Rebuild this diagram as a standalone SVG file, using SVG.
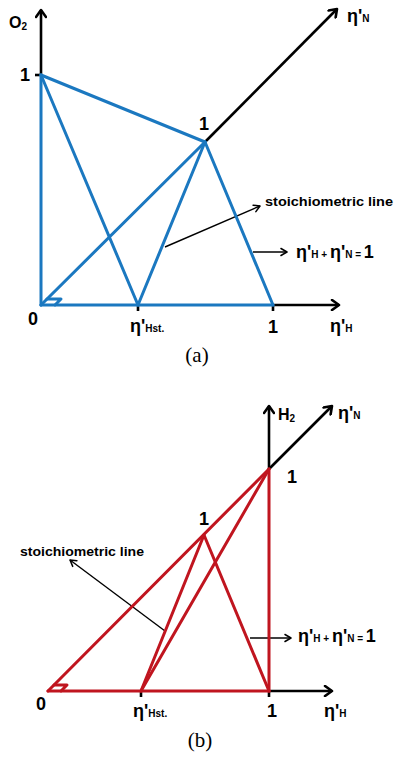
<svg xmlns="http://www.w3.org/2000/svg" width="395" height="759" viewBox="0 0 395 759">
<style>
.bl{stroke:#1b78c0;stroke-width:3;fill:none;stroke-linecap:round;stroke-linejoin:round}
.rd{stroke:#c0151f;stroke-width:3;fill:none;stroke-linecap:round;stroke-linejoin:round}
.ax{stroke:#000;stroke-width:2.6;fill:none}
.pt{stroke:#000;stroke-width:1.4;fill:none}
.t{font-family:"Liberation Sans",Arial,sans-serif;font-weight:bold;fill:#000}
.s{font-size:10px}
.b{font-size:18px}
.cap{font-family:"Liberation Serif","Times New Roman",serif;font-size:21px;fill:#000}
</style>
<defs>
<marker id="ah" markerWidth="12" markerHeight="12" refX="9" refY="6" orient="auto" markerUnits="userSpaceOnUse">
<path d="M2,1 L9,6 L2,11" fill="none" stroke="#000" stroke-width="2.6" stroke-linecap="round" stroke-linejoin="round"/>
</marker>
<marker id="ahs" markerWidth="10" markerHeight="10" refX="8" refY="5" orient="auto" markerUnits="userSpaceOnUse">
<path d="M2,1.5 L8,5 L2,8.5" fill="none" stroke="#000" stroke-width="1.5" stroke-linecap="round" stroke-linejoin="round"/>
</marker>
</defs>

<!-- Panel (a) -->
<g id="connectors-a">
<line class="ax" x1="41" y1="75" x2="41" y2="10" marker-end="url(#ah)"/>
<line class="ax" x1="35" y1="75" x2="41" y2="75"/>
<line class="ax" x1="205" y1="142" x2="337" y2="9" marker-end="url(#ah)"/>
<line class="ax" x1="273" y1="305" x2="339" y2="305" marker-end="url(#ah)"/>
<line class="ax" x1="138" y1="305" x2="138" y2="311" stroke-width="1.6"/>
<line class="ax" x1="273" y1="305" x2="273" y2="311" stroke-width="1.6"/>
<line class="pt" x1="165" y1="247" x2="260" y2="206" marker-end="url(#ahs)"/>
<line class="pt" x1="253" y1="252" x2="287" y2="252" marker-end="url(#ahs)"/>
</g>
<g id="triangle-a">
<line class="bl" x1="41" y1="75" x2="41" y2="305"/>
<line class="bl" x1="41" y1="305" x2="273" y2="305"/>
<line class="bl" x1="41" y1="75" x2="205" y2="142"/>
<line class="bl" x1="41" y1="75" x2="138" y2="305"/>
<line class="bl" x1="205" y1="142" x2="138" y2="305"/>
<line class="bl" x1="205" y1="142" x2="273" y2="305"/>
<line class="bl" x1="41" y1="305" x2="205" y2="142"/>
<polyline class="bl" stroke-width="2" points="47,299 61,299 55,305"/>
</g>
<g id="labels-a">
<text class="t" x="9" y="28" font-size="16">O<tspan font-size="10" dy="2">2</tspan></text>
<text class="t b" x="20" y="81">1</text>
<text class="t b" x="199" y="130">1</text>
<text class="t" x="347" y="22"><tspan class="b">η'</tspan><tspan class="s">N</tspan></text>
<text class="t b" x="28" y="325">0</text>
<text class="t" x="130" y="332"><tspan class="b">η'</tspan><tspan class="s">Hst.</tspan></text>
<text class="t b" x="268" y="333">1</text>
<text class="t" x="330" y="332"><tspan class="b">η'</tspan><tspan class="s">H</tspan></text>
<text class="t" x="265" y="206" font-size="12" textLength="128" lengthAdjust="spacingAndGlyphs">stoichiometric line</text>
<text class="t" x="296" y="258"><tspan class="b">η'</tspan><tspan class="s">H + </tspan><tspan class="b">η'</tspan><tspan class="s">N = </tspan><tspan class="b">1</tspan></text>
<text class="cap" x="197" y="362" text-anchor="middle">(a)</text>
</g>

<!-- Panel (b) -->
<g id="connectors-b">
<line class="ax" x1="269" y1="469" x2="269" y2="406" marker-end="url(#ah)"/>
<line class="ax" x1="269" y1="469" x2="332" y2="406" marker-end="url(#ah)"/>
<line class="ax" x1="269" y1="691" x2="332" y2="691" marker-end="url(#ah)"/>
<line class="ax" x1="141" y1="691" x2="141" y2="697" stroke-width="1.6"/>
<line class="ax" x1="269" y1="691" x2="269" y2="697" stroke-width="1.6"/>
<line class="pt" x1="165" y1="631" x2="70" y2="560" marker-end="url(#ahs)"/>
<line class="pt" x1="250" y1="638" x2="291" y2="638" marker-end="url(#ahs)"/>
</g>
<g id="triangle-b">
<line class="rd" x1="48" y1="691" x2="269" y2="469"/>
<line class="rd" x1="48" y1="691" x2="269" y2="691"/>
<line class="rd" x1="269" y1="469" x2="269" y2="691"/>
<line class="rd" x1="204" y1="535" x2="141" y2="691"/>
<line class="rd" x1="204" y1="535" x2="269" y2="691"/>
<line class="rd" x1="269" y1="469" x2="141" y2="691"/>
<polyline class="rd" stroke-width="2" points="54,685 67,685 61,691"/>
</g>
<g id="labels-b">
<text class="t" x="278" y="420" font-size="16">H<tspan font-size="10" dy="2">2</tspan></text>
<text class="t" x="338" y="419"><tspan class="b">η'</tspan><tspan class="s">N</tspan></text>
<text class="t b" x="287" y="483">1</text>
<text class="t b" x="199" y="525">1</text>
<text class="t" x="20" y="556" font-size="12" textLength="124" lengthAdjust="spacingAndGlyphs">stoichiometric line</text>
<text class="t" x="298" y="642"><tspan class="b">η'</tspan><tspan class="s">H + </tspan><tspan class="b">η'</tspan><tspan class="s">N = </tspan><tspan class="b">1</tspan></text>
<text class="t b" x="36" y="710">0</text>
<text class="t" x="133" y="717"><tspan class="b">η'</tspan><tspan class="s">Hst.</tspan></text>
<text class="t b" x="267" y="717">1</text>
<text class="t" x="324" y="717"><tspan class="b">η'</tspan><tspan class="s">H</tspan></text>
<text class="cap" x="200" y="747" text-anchor="middle">(b)</text>
</g>
</svg>
